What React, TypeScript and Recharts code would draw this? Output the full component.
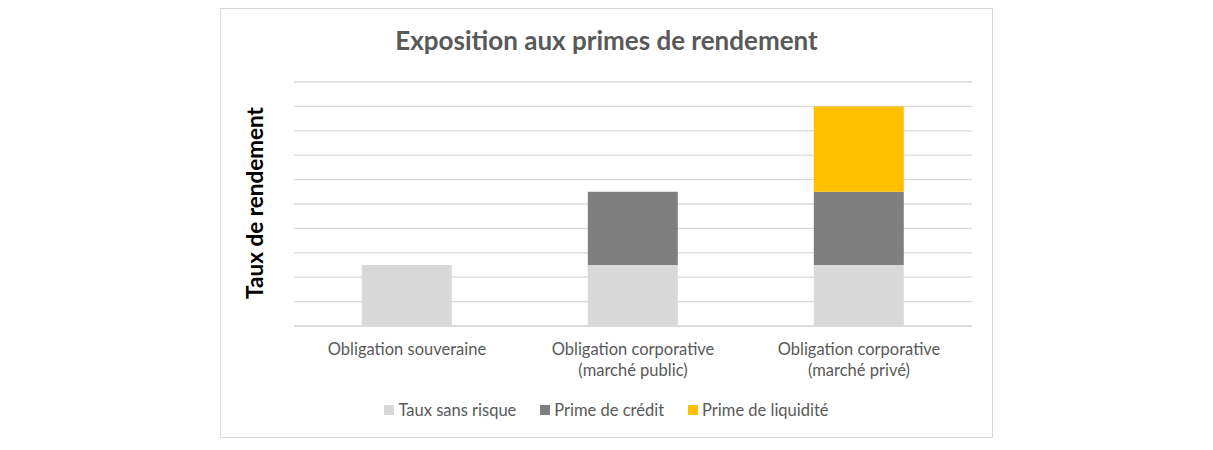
import { BarChart, Bar, XAxis, YAxis, CartesianGrid } from "recharts";

// Décomposition du rendement par type d'obligation (stacked)
const categories = [
  "Obligation souveraine",
  "Obligation corporative\n(marché public)",
  "Obligation corporative\n(marché privé)",
];
const tauxSansRisque = [2.5, 2.5, 2.5];
const primeCredit = [0, 3, 3];
const primeLiquidite = [0, 0, 3.5];
const yTicks = [0, 1, 2, 3, 4, 5, 6, 7, 8, 9, 10];

const series = [
  { key: "sansRisque", name: "Taux sans risque", color: "#d9d9d9" },
  { key: "credit", name: "Prime de crédit", color: "#7f7f7f" },
  { key: "liquidite", name: "Prime de liquidité", color: "#ffc000" },
];

const data = categories.map((c, i) => ({
  cat: c,
  sansRisque: tauxSansRisque[i],
  credit: primeCredit[i],
  liquidite: primeLiquidite[i],
}));

const FONT = "Lato, 'Open Sans', sans-serif";
const W = 771;
const H = 428;

function CatTick(props: { x?: number; y?: number; payload?: { value: string } }) {
  const lines = (props.payload?.value ?? "").split("\n");
  return (
    <text x={props.x} y={props.y} textAnchor="middle" fill="#595959" fontSize={16.5} fontFamily={FONT}>
      {lines.map((l, i) => (
        <tspan key={i} x={props.x} dy={21}>
          {l}
        </tspan>
      ))}
    </text>
  );
}

export default function App() {
  return (
    <div
      style={{
        position: "absolute",
        left: 220,
        top: 8,
        width: W + 2,
        height: H + 2,
        border: "1px solid #d9d9d9",
        boxSizing: "border-box",
        background: "#fff",
      }}
    >
      <div
        style={{
          position: "absolute",
          top: 15,
          left: 0,
          width: W,
          textAlign: "center",
          fontFamily: FONT,
          fontWeight: 700,
          fontSize: 26,
          color: "#595959",
        }}
      >
        Exposition aux primes de rendement
      </div>
      <div
        style={{
          position: "absolute",
          left: 34 - 120,
          top: 194 - 15,
          width: 240,
          height: 30,
          lineHeight: "30px",
          textAlign: "center",
          transform: "rotate(-90deg)",
          fontFamily: FONT,
          fontWeight: 700,
          fontSize: 22.5,
          color: "#000",
        }}
      >
        Taux de rendement
      </div>
      <BarChart
        width={W}
        height={H}
        data={data}
        margin={{ top: 73, right: 20, bottom: 81, left: 73 }}
        barCategoryGap="30%"
      >
        <CartesianGrid vertical={false} stroke="#d9d9d9" strokeWidth={1.3} />
        <XAxis
          dataKey="cat"
          height={30}
          axisLine={{ stroke: "#d9d9d9", strokeWidth: 1.3 }}
          tickLine={false}
          tick={<CatTick />}
          interval={0}
        />
        <YAxis
          width={0}
          domain={[0, 10]}
          ticks={yTicks}
          interval={0}
          tick={() => <g />}
          axisLine={false}
          tickLine={false}
        />
        {series.map((s) => (
          <Bar key={s.key} dataKey={s.key} name={s.name} stackId="a" fill={s.color} isAnimationActive={false} />
        ))}
      </BarChart>
      <div
        style={{
          position: "absolute",
          top: 391,
          left: 0,
          width: W,
          display: "flex",
          justifyContent: "center",
          gap: 24,
          fontFamily: FONT,
          fontSize: 16.5,
          color: "#595959",
        }}
      >
        {series.map((s) => (
          <span key={s.key} style={{ display: "flex", alignItems: "center" }}>
            <span style={{ width: 10, height: 10, background: s.color, marginRight: 4, display: "inline-block" }} />
            {s.name}
          </span>
        ))}
      </div>
    </div>
  );
}
